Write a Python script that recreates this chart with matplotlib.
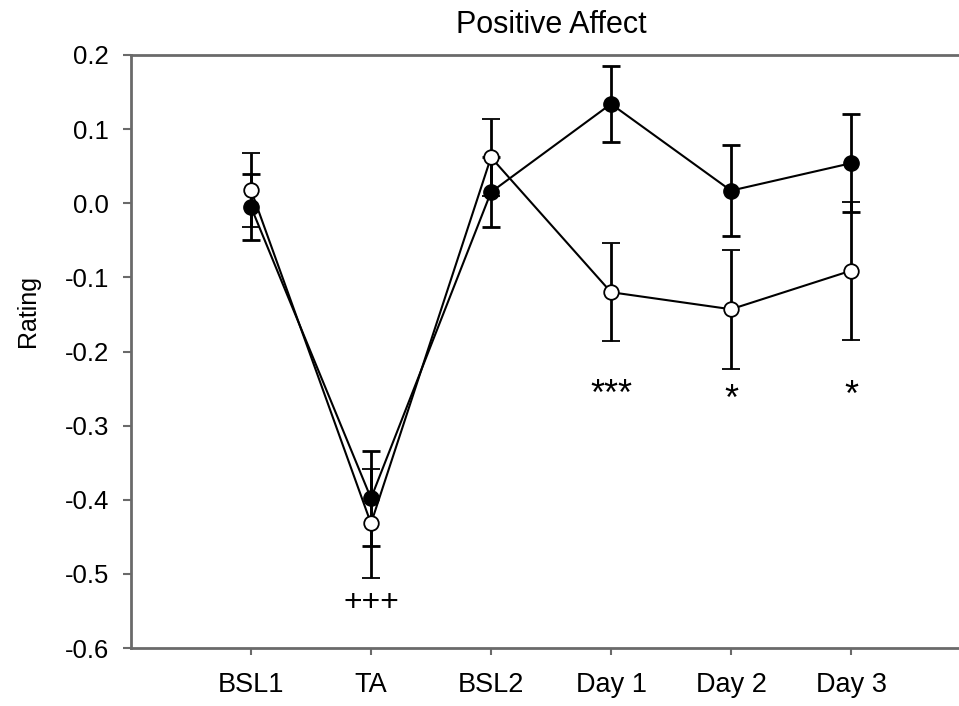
import matplotlib
matplotlib.use("Agg")
import matplotlib.pyplot as plt

# ---- data ----
categories = ["BSL1", "TA", "BSL2", "Day 1", "Day 2", "Day 3"]
filled_mean = [-0.005, -0.398, 0.015, 0.134, 0.017, 0.054]
filled_err = [0.044, 0.064, 0.047, 0.051, 0.061, 0.066]
open_mean = [0.018, -0.432, 0.062, -0.120, -0.143, -0.091]
open_err = [0.050, 0.073, 0.052, 0.066, 0.080, 0.093]
sig_labels = ["", "+++", "", "***", "*", "*"]
sig_y = [None, -0.550, None, -0.272, -0.279, -0.2735]
sig_size = [0, 23, 0, 26, 26, 26]
title = "Positive Affect"
ylabel = "Rating"
yticks = [0.2, 0.1, 0.0, -0.1, -0.2, -0.3, -0.4, -0.5, -0.6]

plt.rcParams['font.family'] = ['Liberation Sans', 'DejaVu Sans']

W, H = 959, 706
fig = plt.figure(figsize=(W / 100, H / 100), dpi=100)
ax = fig.add_axes([131 / W, (H - 648) / H, (W - 131) / W, (648 - 55) / H])

x = list(range(1, len(categories) + 1))

ax.errorbar(x, filled_mean, yerr=filled_err, color='black', lw=1.5,
            marker='o', ms=11, mfc='black', mec='black',
            elinewidth=2.0, capsize=6.5, capthick=2.0, zorder=3)
ax.errorbar(x, open_mean, yerr=open_err, color='black', lw=1.5,
            marker='o', ms=10.5, mfc='white', mec='black', mew=1.3,
            elinewidth=2.0, capsize=6.5, capthick=2.0, zorder=4)

for xi, lab, yy, fs in zip(x, sig_labels, sig_y, sig_size):
    if lab:
        ax.text(xi, yy, lab, ha='center', va='baseline', fontsize=fs, color='black')

ax.set_xlim(0, 6.9)
ax.set_ylim(-0.6, 0.2)
ax.set_yticks(yticks)
ax.set_yticklabels([f"{v:.1f}" for v in yticks])
ax.set_xticks(x)
ax.set_xticklabels(categories)

spine_col = '#6a6a6a'
for s in ['left', 'bottom', 'top']:
    ax.spines[s].set_color(spine_col)
    ax.spines[s].set_linewidth(2.0)
ax.spines['right'].set_visible(False)

ax.tick_params(axis='y', direction='out', length=6, width=1.5, color=spine_col,
               labelsize=18.5, pad=10, labelcolor='black')
ax.tick_params(axis='x', direction='out', length=5, width=1.5, color=spine_col,
               labelsize=19.5, pad=12, labelcolor='black')

fig.text(551 / W, 1 - 33 / H, title, ha='center', va='baseline', fontsize=22)
fig.text(28 / W, 1 - 311 / H, ylabel, ha='center', va='center', rotation=90, fontsize=18)

fig.savefig("out.png", dpi=100)
